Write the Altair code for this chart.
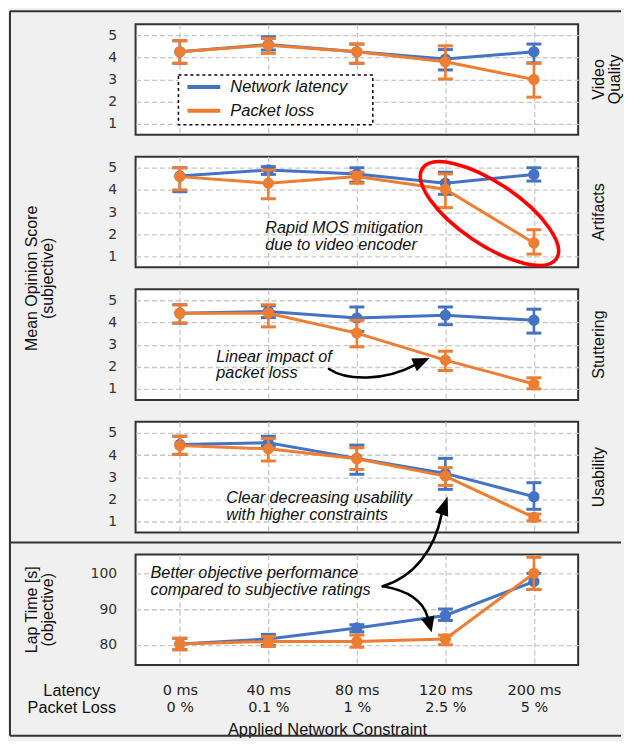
import altair as alt
import pandas as pd

# ---------------- data ----------------
latency_levels = ["0 ms", "40 ms", "80 ms", "120 ms", "200 ms"]
loss_levels = ["0 %", "0.1 %", "1 %", "2.5 %", "5 %"]
axis_row_label = ["Latency", "Packet Loss"]
x_title = "Applied Network Constraint"
series_names = ["Network latency", "Packet loss"]
series_colors = ["#4472C4", "#ED7D31"]

row_titles = [["Video", "Quality"], ["Artifacts"], ["Stuttering"], ["Usability"]]
mos_title = ["Mean Opinion Score", "(subjective)"]
lap_title = ["Lap Time [s]", "(objective)"]
mos_ticks = [1, 2, 3, 4, 5]
lap_ticks = [80, 90, 100]

# Video Quality
vq_lat_mean = [4.25, 4.58, 4.25, 3.92, 4.25]
vq_lat_lo = [3.73, 4.33, 3.73, 3.43, 3.75]
vq_lat_hi = [4.75, 4.93, 4.60, 4.35, 4.60]
vq_pl_mean = [4.25, 4.55, 4.25, 3.80, 3.00]
vq_pl_lo = [3.73, 4.18, 3.73, 3.02, 2.20]
vq_pl_hi = [4.75, 4.85, 4.60, 4.52, 3.73]

# Artifacts
ar_lat_mean = [4.63, 4.90, 4.72, 4.30, 4.70]
ar_lat_lo = [3.92, 4.70, 4.35, 3.80, 4.40]
ar_lat_hi = [5.00, 5.05, 5.00, 4.80, 5.00]
ar_pl_mean = [4.60, 4.30, 4.60, 4.03, 1.60]
ar_pl_lo = [4.00, 3.60, 4.30, 3.20, 1.10]
ar_pl_hi = [5.00, 4.90, 4.80, 4.72, 2.20]

# Stuttering
st_lat_mean = [4.42, 4.50, 4.20, 4.33, 4.10]
st_lat_lo = [3.97, 4.22, 3.60, 3.90, 3.52]
st_lat_hi = [4.80, 4.75, 4.70, 4.70, 4.60]
st_pl_mean = [4.42, 4.42, 3.52, 2.30, 1.22]
st_pl_lo = [3.97, 3.80, 2.90, 1.83, 1.00]
st_pl_hi = [4.80, 4.80, 4.10, 2.70, 1.50]

# Usability
us_lat_mean = [4.48, 4.55, 3.85, 3.17, 2.12]
us_lat_lo = [4.03, 4.40, 3.13, 2.45, 1.55]
us_lat_hi = [4.85, 4.85, 4.45, 3.85, 2.75]
us_pl_mean = [4.43, 4.28, 3.83, 3.05, 1.18]
us_pl_lo = [4.03, 3.73, 3.35, 2.63, 1.03]
us_pl_hi = [4.85, 4.75, 4.33, 3.43, 1.33]

# Lap time (objective)
lt_lat_mean = [80.2, 81.6, 84.7, 88.2, 97.7]
lt_lat_lo = [78.6, 79.8, 83.6, 86.8, 95.5]
lt_lat_hi = [81.8, 82.9, 85.6, 90.0, 100.0]
lt_pl_mean = [80.2, 80.9, 80.9, 81.6, 100.0]
lt_pl_lo = [78.6, 79.5, 79.3, 80.0, 95.5]
lt_pl_hi = [81.8, 82.3, 82.7, 82.7, 104.5]

ann_artifacts = ["Rapid MOS mitigation", "due to video encoder"]
ann_stutter = ["Linear impact of", "packet loss"]
ann_usability = ["Clear decreasing usability", "with higher constraints"]
ann_lap = ["Better objective performance", "compared to subjective ratings"]

# ---------------- helpers ----------------
W, H, GAP = 444, 111, 22
FONT = "Liberation Sans"
TICKFONT = "DejaVu Sans"
ONE = alt.InlineData(values=[{"k": 0}])

conditions = [f"{a}|{b}" for a, b in zip(latency_levels, loss_levels)]


def make_df(lat, pl):
    rows = []
    for name, (m, lo, hi) in zip(series_names, [lat, pl]):
        for c, mv, lv, hv in zip(conditions, m, lo, hi):
            rows.append({"series": name, "cond": c, "mean": mv, "lo": lv, "hi": hv})
    return pd.DataFrame(rows)


def data_layers(df, domain, ticks, bottom):
    if bottom:
        xaxis = alt.Axis(
            labelExpr="split(datum.label, '|')", labelFont=TICKFONT, labelFontSize=14.5,
            labelLineHeight=17, labelPadding=19, labelColor="#222222", labelAngle=0,
            labelOverlap=False, ticks=False, tickSize=0, domain=False, grid=True,
            title=x_title, titleFont=FONT, titleFontSize=16.5, titleFontWeight="normal",
            titleColor="#111111", titleX=192, titleY=57, titleAlign="center",
            titleBaseline="top", titleAngle=0,
        )
    else:
        xaxis = alt.Axis(labels=False, ticks=False, domain=False, title=None, grid=True)
    xenc = alt.X("cond:N", sort=conditions,
                 scale=alt.Scale(type="point", domain=conditions, padding=0.5), axis=xaxis)
    yscale = alt.Scale(domain=domain, nice=False, zero=False)
    yaxis = alt.Axis(values=ticks, title=None, labelFont=TICKFONT, labelFontSize=14,
                     labelPadding=19, ticks=False, tickSize=0, domain=False, grid=True,
                     labelColor="#333333")
    col = alt.Color("series:N", scale=alt.Scale(domain=series_names, range=series_colors),
                    legend=None)
    layers = []
    for name in series_names:
        base = alt.Chart(df[df["series"] == name])
        layers.append(base.mark_line(strokeWidth=3).encode(
            x=xenc, y=alt.Y("mean:Q", scale=yscale, axis=yaxis), color=col))
        layers.append(base.mark_rule(strokeWidth=2.6).encode(
            x=xenc, y=alt.Y("lo:Q", scale=yscale, axis=yaxis), y2="hi:Q", color=col))
        for f in ["lo", "hi"]:
            layers.append(base.mark_tick(size=15, thickness=3, opacity=1).encode(
                x=xenc, y=alt.Y(f"{f}:Q", scale=yscale, axis=yaxis), color=col))
        layers.append(base.mark_point(filled=True, size=128, opacity=1).encode(
            x=xenc, y=alt.Y("mean:Q", scale=yscale, axis=yaxis), color=col))
    return layers


def text_layer(lines, x, y, align="left", angle=0, italic=False, size=16, lh=16.7,
               baseline="top"):
    kw = dict(align=align, baseline=baseline, font=FONT, fontSize=size, lineHeight=lh,
              color="#111111")
    if angle:
        kw["angle"] = angle
    if italic:
        kw["fontStyle"] = "italic"
    return alt.Chart(ONE).mark_text(**kw).encode(
        x=alt.value(x), y=alt.value(y), text=alt.value(lines))


def stroke_shape(path, x, y, size=4, color="black", width=2.6, angle=0):
    kw = dict(shape=path, size=size, filled=False, color=color, strokeWidth=width,
              opacity=1, strokeCap="round")
    if angle:
        kw["angle"] = angle
    return alt.Chart(ONE).mark_point(**kw).encode(x=alt.value(x), y=alt.value(y))


def fill_shape(path, x, y, size=4, color="black"):
    return alt.Chart(ONE).mark_point(shape=path, size=size, filled=True, color=color,
                                     opacity=1, strokeWidth=0).encode(
        x=alt.value(x), y=alt.value(y))


def hrule(x1, x2, y, color="#333333", width=2):
    return alt.Chart(ONE).mark_rule(color=color, strokeWidth=width).encode(
        x=alt.value(x1), x2=alt.value(x2), y=alt.value(y))


def vrule(x, y1, y2, color="#333333", width=2):
    return alt.Chart(ONE).mark_rule(color=color, strokeWidth=width).encode(
        x=alt.value(x), y=alt.value(y1), y2=alt.value(y2))


# ---------------- annotations ----------------
ellipse_path = ("M -1 0 C -1 -0.21 -0.55 -0.38 0 -0.38 C 0.55 -0.38 1 -0.21 1 0 "
                "C 1 0.21 0.55 0.38 0 0.38 C -0.55 0.38 -1 0.21 -1 0 Z")

arrowA_curve = "M 194 80 C 212 92 250 92 281 75.5"
arrowA_head = "M 295 69 L 282.2 82.2 L 276.6 69.4 Z"
arrowB_curve = "M 248 32 C 280 22 300 -5 307 -40"
arrowB_head = "M 313 -58 L 313.6 -37.8 L 300.4 -42.2 Z"
arrowC_curve = "M 248 32 C 272 36 288 45 293 63"
arrowC_head = "M 297 78 L 299.8 61.3 L 286.2 64.7 Z"

BOTTOM_FRAME = 182
LEFT_FRAME = -126
RIGHT_FRAME = 487

legend_layers = [
    alt.Chart(ONE).mark_rect(fill="white", stroke="black", strokeDash=[3, 3],
                             strokeWidth=1.5).encode(
        x=alt.value(43), x2=alt.value(238), y=alt.value(51), y2=alt.value(101)),
]
for i, (name, c) in enumerate(zip(series_names, series_colors)):
    yy = 63 + 24 * i
    legend_layers.append(hrule(52, 85, yy, color=c, width=4))
    legend_layers.append(text_layer(name, 95, yy, italic=True, size=16.5, baseline="middle"))

extras = [
    # panel 1
    legend_layers + [
        text_layer(row_titles[0], 457, H / 2, align="center", angle=270, lh=16),
        text_layer(mos_title, -112, (4 * H + 3 * GAP) / 2, align="center", angle=270,
                   lh=16.5),
        hrule(LEFT_FRAME, RIGHT_FRAME, -13),
        vrule(LEFT_FRAME, -13, 4 * (H + GAP) + BOTTOM_FRAME),
    ],
    # panel 2
    [
        text_layer(ann_artifacts, 130, 63.5, italic=True, size=16.3, lh=16.7),
        stroke_shape(ellipse_path, 355, 57, size=162 * 162, color="#ff0000", width=3.6,
                     angle=34),
        text_layer(row_titles[1], 457, H / 2, align="center", angle=270, lh=16),
    ],
    # panel 3
    [
        text_layer(ann_stutter, 81, 59.5, italic=True, size=16.3),
        stroke_shape(arrowA_curve, 0, 0),
        fill_shape(arrowA_head, 0, 0),
        text_layer(row_titles[2], 457, H / 2, align="center", angle=270, lh=16),
    ],
    # panel 4
    [
        text_layer(ann_usability, 91, 68.5, italic=True, size=16.3),
        text_layer(row_titles[3], 457, H / 2, align="center", angle=270, lh=16),
    ],
    # panel 5
    [
        hrule(LEFT_FRAME, RIGHT_FRAME, -12),
        hrule(LEFT_FRAME, RIGHT_FRAME, BOTTOM_FRAME),
        text_layer(ann_lap, 15, 10.7, italic=True, size=16.3),
        text_layer(lap_title, -112, H / 2, align="center", angle=270, lh=16.5),
        text_layer(axis_row_label, -64, 129.5, align="center", size=16.3, lh=17),
        stroke_shape(arrowB_curve, 0, 0),
        fill_shape(arrowB_head, 0, 0),
        stroke_shape(arrowC_curve, 0, 0),
        fill_shape(arrowC_head, 0, 0),
    ],
]

panels = [
    (make_df((vq_lat_mean, vq_lat_lo, vq_lat_hi), (vq_pl_mean, vq_pl_lo, vq_pl_hi)), [0.5, 5.5], mos_ticks),
    (make_df((ar_lat_mean, ar_lat_lo, ar_lat_hi), (ar_pl_mean, ar_pl_lo, ar_pl_hi)), [0.5, 5.5], mos_ticks),
    (make_df((st_lat_mean, st_lat_lo, st_lat_hi), (st_pl_mean, st_pl_lo, st_pl_hi)), [0.5, 5.5], mos_ticks),
    (make_df((us_lat_mean, us_lat_lo, us_lat_hi), (us_pl_mean, us_pl_lo, us_pl_hi)), [0.5, 5.5], mos_ticks),
    (make_df((lt_lat_mean, lt_lat_lo, lt_lat_hi), (lt_pl_mean, lt_pl_lo, lt_pl_hi)), [74.3, 105.3], lap_ticks),
]

charts = []
for i, (df, dom, ticks) in enumerate(panels):
    layers = data_layers(df, dom, ticks, bottom=(i == 4)) + extras[i]
    charts.append(alt.layer(*layers).properties(width=W, height=H))

chart = (
    alt.vconcat(*charts, spacing=GAP, bounds="flush")
    .properties(background="#f0f0f0", padding=0)
    .configure_view(stroke="#333333", strokeWidth=2, fill="white")
    .configure_axis(gridColor="#c8c8c8", gridDash=[5, 3], gridWidth=1.3)
)

chart.save("out.html", embed_options={"renderer": "svg", "actions": False})
